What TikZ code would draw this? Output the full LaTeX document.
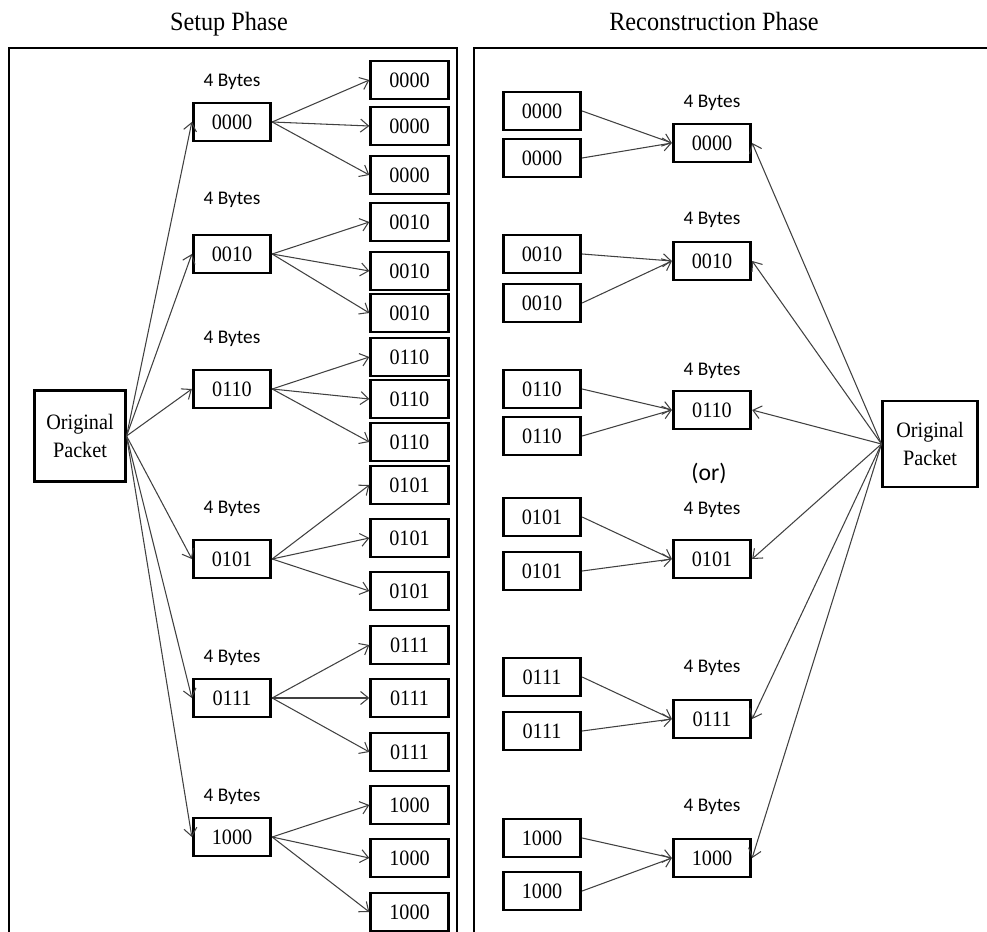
\documentclass[tikz,border=0pt]{standalone}
\usepackage{fontspec}
\usetikzlibrary{arrows.meta,positioning}
\newfontfamily\boxfont[FakeStretch=0.92]{Liberation Serif}
\newfontfamily\labelfont{Carlito}

\begin{document}
\begin{tikzpicture}[
    x=0.02cm, y=-0.02cm,
    val/.style={rectangle, draw=black, line width=1.6pt, minimum width=1.55cm, minimum height=0.76cm, inner sep=0pt, font=\boxfont\fontsize{12.5}{15}\selectfont},
    pkt/.style={rectangle, draw=black, line width=1.2pt, align=center, inner sep=0pt, font=\boxfont\fontsize{12.5}{16}\selectfont},
    bytes/.style={inner sep=0pt, font=\labelfont\fontsize{11}{13}\selectfont},
    phase/.style={anchor=base, inner sep=0pt, font=\boxfont\fontsize{15}{18}\selectfont},
    frame/.style={line width=1.4pt},
    arrow/.style={-{Straight Barb[length=1.6mm,width=2.6mm]}, line width=0.6pt, draw=black!75}
]
\useasboundingbox (0,0) rectangle (987,932);

% Panel titles and frames
\node[phase] (sp_title) at (229,31) {Setup Phase};
\node[phase] (rp_title) at (714,31) {Reconstruction Phase};
\draw[frame] (9,932) |- (457,48) -- (457,932);
\draw[frame] (474,932) |- (987,48);

% Setup phase: original packet, 4-byte blocks and copies
\node[pkt, minimum width=1.82cm, minimum height=1.82cm] (sp_op) at (80,436) {Original\\Packet};
\foreach \i/\yy/\v/\ly in {1/122/0000/82, 2/254/0010/200, 3/389/0110/339, 4/559/0101/509, 5/698/0111/658, 6/837/1000/797} {
    \node[bytes] (sp_b\i) at (232,\ly) {4 Bytes};
    \node[val] (sp_m\i) at (232,\yy) {\v};
}
\foreach \j/\yy/\v in {1/80/0000, 2/126/0000, 3/175/0000, 4/222/0010, 5/271/0010, 6/313/0010,
    7/357/0110, 8/399/0110, 9/442/0110, 10/485/0101, 11/538/0101, 12/591/0101,
    13/645/0111, 14/698/0111, 15/752/0111, 16/805/1000, 17/858/1000, 18/912/1000}
    \node[val] (sp_l\j) at (409.5,\yy) {\v};

% Reconstruction phase: received copies, rebuilt blocks, original packet
\node[pkt, minimum width=1.9cm, minimum height=1.72cm] (rp_op) at (930,444) {Original\\Packet};
\foreach \i/\yy/\v/\ly in {1/143/0000/103, 2/261/0010/220, 3/410/0110/371, 4/559/0101/510, 5/719/0111/668, 6/858/1000/807} {
    \node[bytes] (rp_b\i) at (712,\ly) {4 Bytes};
    \node[val] (rp_t\i) at (712,\yy) {\v};
}
\foreach \j/\yy/\v in {1/111/0000, 2/158/0000, 3/254/0010, 4/303/0010, 5/389/0110, 6/436/0110,
    7/517/0101, 8/571/0101, 9/677/0111, 10/731/0111, 11/838/1000, 12/891/1000}
    \node[val] (rp_s\j) at (542,\yy) {\v};
\node[bytes, font=\labelfont\fontsize{13.5}{16}\selectfont] (rp_or) at (709,473) {(or)};

% Connections
\foreach \i in {1,...,6} {
    \draw[arrow] (sp_op.east) -- (sp_m\i.west);
    \draw[arrow] (rp_op.west) -- (rp_t\i.east);
    \foreach \k in {1,2,3} {
        \pgfmathtruncatemacro\j{3*(\i-1)+\k}
        \draw[arrow] (sp_m\i.east) -- (sp_l\j.west);
    }
    \foreach \k in {1,2} {
        \pgfmathtruncatemacro\j{2*(\i-1)+\k}
        \draw[arrow] (rp_s\j.east) -- (rp_t\i.west);
    }
}

\end{tikzpicture}
\end{document}
